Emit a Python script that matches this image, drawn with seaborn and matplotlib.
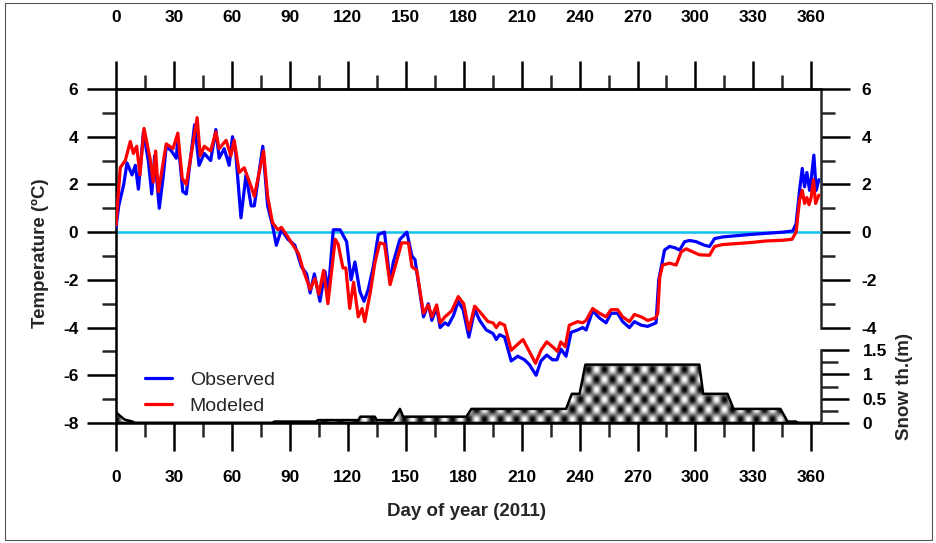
import numpy as np
import pandas as pd
import matplotlib
matplotlib.use("Agg")
import matplotlib.pyplot as plt
import seaborn as sns
from matplotlib.patches import Rectangle
from matplotlib.ticker import MultipleLocator

# valori (giorno dell'anno, temperatura in gradi C)
obs_day = [0, 1.4, 4, 5.7, 8.3, 10, 11.6, 14.2, 16.8, 18.5, 20, 22.4, 24.4, 26, 28.7, 31.2, 32,
           34.6, 36.4, 38, 40.7, 43, 45.7, 49, 51.7, 53.4, 56, 58.6, 60.3, 62, 64.7, 67.3, 70,
           71.6, 76, 78.5, 81, 83, 85.6, 89, 92.6, 96, 98.7, 100.5, 102.7, 105.6, 108.2, 109.9,
           112.5, 116, 119.4, 121.7, 123.7, 126.3, 128.4, 130.6, 133.2, 135.8, 139, 141.9, 143.6,
           147, 150.6, 153.2, 154.8, 159.2, 161.7, 163.5, 166, 167.8, 170.3, 172, 174.7, 177.2,
           179.7, 182.7, 185.7, 188.3, 191.7, 195.2, 196.9, 198.6, 201.2, 204.6, 208, 211.5, 214,
           217.5, 220, 223, 226, 228.3, 230.3, 233, 235.6, 239, 241.6, 243.4, 246.8, 250.3, 253.7,
           256.3, 259.7, 262.3, 265.8, 268.4, 271.9, 275.3, 279.6, 281, 282.3, 284, 286.6, 289.2,
           291.8, 294.4, 297, 300.4, 304.7, 307.3, 309.9, 314.2, 321.1, 328, 336.6, 345.2, 350.4,
           352.1, 353.9, 355.3, 356.5, 357.7, 359.1, 359.9, 361.3, 362.5, 363.9]
obs_temp = [0.2, 1.1, 2.0, 2.9, 2.4, 2.8, 1.8, 4.2, 2.95, 1.6, 3.2, 1.0, 2.3, 3.6, 3.4, 3.1, 3.9,
            1.7, 1.6, 2.7, 4.5, 2.8, 3.3, 3.0, 4.3, 3.1, 3.5, 2.8, 4.0, 3.3, 0.6, 2.4, 1.1,
            1.1, 3.6, 1.1, 0.3, -0.55, 0.1, -0.3, -0.55, -1.45, -1.75, -2.55, -1.75, -2.9, -1.65, -2.5,
            0.1, 0.1, -0.4, -2.0, -1.25, -2.5, -2.9, -2.4, -1.45, -0.1, 0.0, -2.1, -1.25,
            -0.3, 0.0, -1.0, -1.15, -3.55, -3.0, -3.7, -3.15, -4.0, -3.8, -3.9, -3.5, -2.9,
            -3.25, -4.4, -3.25, -3.7, -4.1, -4.25, -4.5, -4.3, -4.4, -5.4, -5.2, -5.35, -5.55,
            -6.0, -5.4, -5.15, -5.35, -5.35, -4.9, -5.2, -4.2, -4.1, -4.0, -4.1, -3.3, -3.6, -3.8,
            -3.4, -3.4, -3.75, -4.0, -3.75, -3.9, -3.95, -3.8, -2.0, -1.45, -0.75, -0.6, -0.65,
            -0.75, -0.4, -0.35, -0.4, -0.55, -0.6, -0.27, -0.2, -0.15, -0.1, -0.05, 0.0, 0.05,
            0.35, 1.75, 2.67, 1.9, 2.5, 1.75, 2.2, 3.23, 1.75, 2.2]

mod_day = [0, 2.2, 4.8, 7.4, 9, 10.7, 12.4, 14.5, 17.6, 19.3, 20.5, 21.9, 23.6, 26, 29.5, 32,
           34.3, 36.4, 38, 42, 43.6, 45.7, 49, 51.7, 53.4, 57, 59.5, 61.2, 63.8, 66.4, 70, 71.6,
           76.4, 78.5, 81, 83.8, 85.6, 89, 90.5, 94.5, 97, 100.5, 103, 105, 107.5, 109.7, 113.5,
           115, 117.5, 119, 121, 123, 125.4, 127.4, 128.8, 131.7, 134, 136.5, 139, 141.9, 144.5,
           147.9, 151.4, 153.2, 155.7, 159.2, 161.7, 163.5, 166, 167.8, 170.3, 173.8, 177.2, 180,
           182.7, 185.7, 189, 192.6, 195.2, 196.9, 198.6, 201.2, 204.6, 208, 210.7, 214, 217.2,
           220, 223, 226, 228.6, 230.3, 232.6, 234.7, 239, 241.6, 243.4, 246.8, 250.3, 253.7,
           256.3, 259.7, 262.3, 265.8, 268.4, 271.9, 275.3, 279.3, 280.5, 281.5, 283, 286.6, 290,
           292.6, 295.2, 298.7, 302.1, 307.3, 309.9, 314.2, 321.1, 328, 336.6, 345.2, 350, 352.1,
           353.9, 355.3, 356.5, 357.7, 358.8, 359.9, 361.1, 362.2, 363.9]
mod_temp = [0.3, 2.7, 3.0, 3.8, 3.3, 3.6, 2.4, 4.35, 3.1, 2.1, 3.4, 1.7, 2.5, 3.7, 3.5, 4.15,
            2.25, 2.0, 2.8, 4.8, 3.2, 3.6, 3.4, 4.2, 3.5, 3.85, 3.2, 3.85, 2.5, 2.7, 1.9, 1.5,
            3.4, 1.5, 0.4, 0.1, 0.2, -0.2, -0.4, -0.9, -1.6, -2.4, -1.95, -2.6, -1.6, -3.0, -0.3,
            -0.5, -1.5, -1.5, -3.2, -2.1, -3.55, -3.2, -3.75, -2.5, -1.3, -0.45, -0.5, -2.2, -1.45,
            -0.45, -0.45, -1.45, -1.6, -3.4, -3.05, -3.55, -3.05, -3.8, -3.55, -3.3, -2.7, -3.0,
            -4.1, -3.1, -3.4, -3.75, -3.8, -4.0, -3.8, -3.9, -4.95, -4.7, -4.5, -5.0, -5.5,
            -4.95, -4.6, -4.8, -5.0, -4.6, -4.8, -3.9, -3.75, -3.8, -3.7, -3.2, -3.4, -3.55,
            -3.25, -3.25, -3.55, -3.75, -3.45, -3.55, -3.7, -3.6, -3.4, -1.9, -1.38, -1.3, -1.38,
            -0.83, -0.7, -0.83, -0.95, -0.97, -0.6, -0.52, -0.48, -0.44, -0.37, -0.34, -0.3, 0.0,
            1.35, 1.75, 1.2, 1.45, 1.15, 1.45, 2.2, 1.2, 1.55]

# spessore della neve (m)
snow_day = [0, 2, 4.5, 8.5, 9.5, 81, 82, 103.5, 104.5, 125.5, 126.5, 134, 135, 143.5, 147,
            148.7, 181.4, 184, 233, 236, 240, 243, 302, 304, 316.6, 319.7, 344, 347.7, 352, 353, 365]
snow_m = [0.22, 0.15, 0.07, 0.03, 0.0, 0.0, 0.03, 0.03, 0.06, 0.06, 0.13, 0.13, 0.06, 0.06, 0.29,
          0.13, 0.13, 0.29, 0.29, 0.6, 0.6, 1.2, 1.2, 0.6, 0.6, 0.29, 0.29, 0.03, 0.03, 0.0, 0.0]

x_ticks = np.arange(0, 361, 30)
temp_ticks = np.arange(-8, 7, 2)
right_temp_ticks = np.arange(-4, 7, 2)
snow_ticks = [0, 0.5, 1, 1.5]
snow_labels = ["0", "0.5", "1", "1.5"]

obs = pd.DataFrame({"day": obs_day, "temp": obs_temp})
mod = pd.DataFrame({"day": mod_day, "temp": mod_temp})

sns.set_theme(style="ticks")
plt.rcParams["font.family"] = ["Liberation Sans", "DejaVu Sans"]
plt.rcParams["axes.unicode_minus"] = False

W, H = 937, 543
fig = plt.figure(figsize=(W / 100, H / 100), dpi=100)
ax = fig.add_axes([116 / W, 1 - 423 / H, (821 - 116) / W, (423 - 89) / H])

lw_ax = 1.8
tick_kw = dict(width=lw_ax, color="black", labelsize=12.5, labelcolor="black")

ax.axhline(0, color="#14c0ee", lw=1.8, zorder=1)
sns.lineplot(data=obs, x="day", y="temp", ax=ax, color="#0000ff", lw=2.3, label="Observed", zorder=3)
sns.lineplot(data=mod, x="day", y="temp", ax=ax, color="#ff0000", lw=2.3, label="Modeled", zorder=4)

ax.set_xlim(0, 365)
ax.set_ylim(-8, 6)
ax.set_xticks(x_ticks)
ax.xaxis.set_minor_locator(MultipleLocator(15))
ax.set_yticks(temp_ticks)
ax.yaxis.set_minor_locator(MultipleLocator(1))
ax.set_xlabel("")
ax.set_ylabel("")
for s in ["left", "bottom", "top"]:
    ax.spines[s].set_linewidth(lw_ax)
    ax.spines[s].set_color("black")
ax.spines["right"].set_visible(False)
ax.tick_params(axis="x", which="major", length=20, pad=14, top=False, **tick_kw)
ax.tick_params(axis="x", which="minor", length=10, width=lw_ax, top=False)
ax.tick_params(axis="y", which="major", length=21, pad=6, right=False, **tick_kw)
ax.tick_params(axis="y", which="minor", length=10, width=lw_ax, right=False)
for lab in ax.get_xticklabels() + ax.get_yticklabels():
    lab.set_fontweight("bold")

# asse superiore
top = ax.secondary_xaxis("top")
top.set_xticks(x_ticks)
top.xaxis.set_minor_locator(MultipleLocator(15))
top.tick_params(axis="x", which="major", length=20, pad=26, **tick_kw)
top.tick_params(axis="x", which="minor", length=10, width=lw_ax)
top.spines["top"].set_linewidth(lw_ax)
for lab in top.get_xticklabels():
    lab.set_fontweight("bold")

# asse destro temperatura (-4..6)
rt = ax.secondary_yaxis("right")
rt.set_yticks(right_temp_ticks)
rt.set_yticks([-3, -1, 1, 3, 5], minor=True)
rt.tick_params(axis="y", which="major", length=21, pad=8, **tick_kw)
rt.tick_params(axis="y", which="minor", length=10, width=lw_ax)
rt.spines["right"].set_linewidth(lw_ax)
rt.spines["right"].set_bounds(-4, 6)
for lab in rt.get_yticklabels():
    lab.set_fontweight("bold")

# neve su asse gemello, riempimento a pois
ax2 = ax.twinx()
yy, xx = np.mgrid[0:334, 0:705]
pattern = np.cos(2 * np.pi * xx / 16) * np.cos(2 * np.pi * yy / 20)
im = ax2.imshow(pattern, cmap="gray", vmin=-1, vmax=1, extent=[0, 1, 0, 1],
                transform=ax2.transAxes, aspect="auto", interpolation="bilinear", zorder=1)
fill = ax2.fill_between(snow_day, snow_m, 0, facecolor="none", edgecolor="black", lw=1.8, zorder=2)
im.set_clip_path(fill.get_paths()[0], transform=ax2.transData)
ax2.set_xlim(0, 365)
ax2.set_ylim(0, 334 / 73 * 1.5)
ax2.set_yticks(snow_ticks, snow_labels)
ax2.set_yticks([0.25, 0.75, 1.25], minor=True)
ax2.tick_params(axis="y", which="major", length=20, pad=10, **tick_kw)
ax2.tick_params(axis="y", which="minor", length=12, width=lw_ax)
for s in ["left", "top", "bottom"]:
    ax2.spines[s].set_visible(False)
ax2.spines["right"].set_linewidth(lw_ax)
ax2.spines["right"].set_bounds(0, 1.5)
for lab in ax2.get_yticklabels():
    lab.set_fontweight("bold")
ax2.set_ylabel("")

leg = ax.legend(loc="lower left", bbox_to_anchor=(0.041, 0.025), frameon=False, fontsize=14,
                handlelength=1.4, handletextpad=0.9, labelspacing=0.4,
                borderpad=0, borderaxespad=0)
for line in leg.get_lines():
    line.set_linewidth(2.3)

fig.text(40 / W, 1 - 253 / H, "Temperature (ºC)", rotation=90, ha="center", va="center",
         fontsize=13.5, fontweight="bold")
fig.text(467 / W, 1 - 511 / H, "Day of year (2011)", ha="center", va="center",
         fontsize=13.5, fontweight="bold")
fig.text(905 / W, 1 - 387 / H, "Snow th.(m)", rotation=90, ha="center", va="center",
         fontsize=13.5, fontweight="bold")

fig.patches.append(Rectangle((5 / W, 3 / H), 927 / W, 537 / H, transform=fig.transFigure,
                             fill=False, edgecolor="#555555", lw=0.8))

fig.savefig("out.png", dpi=100)
